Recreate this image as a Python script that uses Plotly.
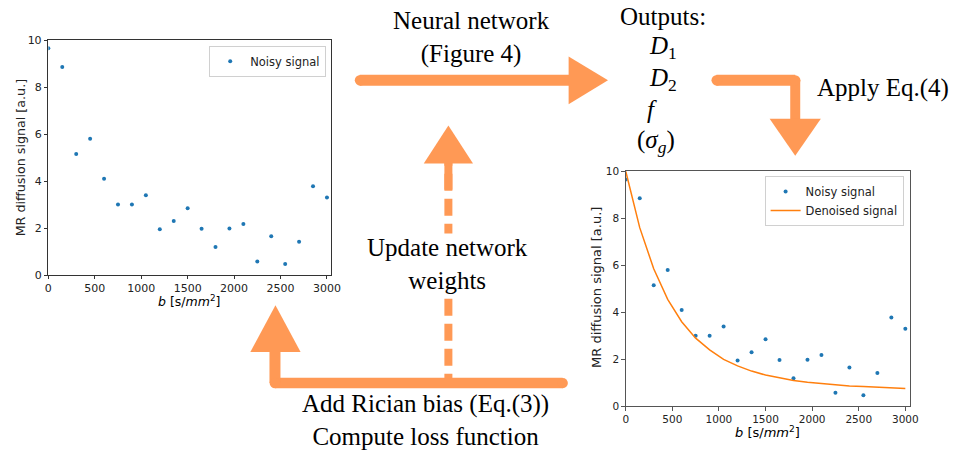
import plotly.graph_objects as go

# ---------------- data ----------------
b_values = [0, 150, 300, 450, 600, 750, 900, 1050, 1200, 1350, 1500,
            1650, 1800, 1950, 2100, 2250, 2400, 2550, 2700, 2850, 3000]
noisy_signal = [9.65, 8.85, 5.15, 5.8, 4.1, 3.0, 3.0, 3.4, 1.95, 2.3, 2.85,
                1.97, 1.2, 1.98, 2.18, 0.58, 1.65, 0.47, 1.42, 3.78, 3.3]
denoised_signal = [10.0, 7.6, 5.85, 4.55, 3.6, 2.9, 2.4, 2.0, 1.72, 1.5, 1.33,
                   1.2, 1.1, 1.02, 0.96, 0.91, 0.87, 0.84, 0.81, 0.79, 0.76]
x_ticks = [0, 500, 1000, 1500, 2000, 2500, 3000]
y_ticks = [0, 2, 4, 6, 8, 10]

W, H = 955, 460
ORANGE = "#FF9955"
BLUE = "#1f77b4"
LINE_ORANGE = "#ff7f0e"


def fx(x):
    return x / W


def fy(y):
    return 1 - y / H


fig = go.Figure()

# left plot
fig.add_trace(go.Scatter(x=b_values, y=noisy_signal, mode="markers",
                         marker=dict(color=BLUE, size=4), name="Noisy signal",
                         xaxis="x", yaxis="y", legend="legend"))
# right plot
fig.add_trace(go.Scatter(x=b_values, y=noisy_signal, mode="markers",
                         marker=dict(color=BLUE, size=4), name="Noisy signal",
                         xaxis="x2", yaxis="y2", legend="legend2"))
fig.add_trace(go.Scatter(x=b_values, y=denoised_signal, mode="lines",
                         line=dict(color=LINE_ORANGE, width=1.5), name="Denoised signal",
                         xaxis="x2", yaxis="y2", legend="legend2"))


def axis_style(domain, anchor, rng, tickvals, color, fsize, tl=3.5):
    return dict(domain=domain, anchor=anchor, range=rng, tickvals=tickvals,
                showline=True, mirror=True, linecolor=color, linewidth=1,
                ticks="outside", ticklen=tl, tickcolor=color, showgrid=False,
                zeroline=False, tickfont=dict(family="DejaVu Sans", size=fsize, color="#222"))


layout = dict(
    width=W, height=H, autosize=False,
    margin=dict(l=0, r=0, t=0, b=0),
    paper_bgcolor="white", plot_bgcolor="white",
    xaxis=axis_style([fx(45), fx(332)], "y", [0, 3045], x_ticks, "#333", 11, tl=3),
    yaxis=axis_style([fy(277), fy(35)], "x", [0, 10], y_ticks, "#333", 11),
    xaxis2=axis_style([fx(631), fx(919)], "y2", [0, 3045], x_ticks, "#555", 10.5),
    yaxis2=axis_style([fy(412), fy(170)], "x2", [0, 10], y_ticks, "#555", 10.5),
    legend=dict(x=fx(327), xanchor="right", y=fy(41), yanchor="top",
                bgcolor="white", bordercolor="#d0d0d0", borderwidth=1,
                font=dict(family="DejaVu Sans", size=11.5, color="#222")),
    legend2=dict(x=fx(913), xanchor="right", y=fy(175), yanchor="top",
                 bgcolor="white", bordercolor="#d0d0d0", borderwidth=1,
                 font=dict(family="DejaVu Sans", size=11.5, color="#222")),
    showlegend=True,
)
fig.update_layout(**layout)

shapes = []


def line(x0, y0, x1, y1, w, dash=None):
    d = dict(type="line", xref="paper", yref="paper", x0=fx(x0), y0=fy(y0),
             x1=fx(x1), y1=fy(y1), line=dict(color=ORANGE, width=w), layer="above")
    if dash:
        d["line"]["dash"] = dash
    shapes.append(d)


def circle(cx, cy, r):
    shapes.append(dict(type="circle", xref="paper", yref="paper",
                       x0=fx(cx - r), x1=fx(cx + r), y0=fy(cy + r), y1=fy(cy - r),
                       fillcolor=ORANGE, line=dict(width=0), layer="above"))


def tri(pts):
    p = "M " + " L ".join(f"{fx(x)},{fy(y)}" for x, y in pts) + " Z"
    shapes.append(dict(type="path", xref="paper", yref="paper", path=p,
                       fillcolor=ORANGE, line=dict(width=0), layer="above"))


# Arrow A: top horizontal
line(361, 76.5, 575, 76.5, 11)
circle(361.5, 76.5, 5.5)
tri([(573, 52), (613, 76.5), (573, 101)])

# Arrow B: right L-shaped down
line(723, 76.5, 803, 76.5, 11)
line(803, 76.5, 803, 118, 10)
circle(723.5, 76.5, 5.5)
circle(803, 76.5, 5.3)
tri([(777, 116), (829, 116), (803, 154)])

# Arrow C: bottom L-shaped going left then up
line(567, 388, 275, 388, 10.5)
line(275, 388, 275, 354, 11)
circle(567, 388, 5.25)
circle(275, 388, 5.4)
tri([(250, 356), (301, 356), (275.5, 308)])

# Arrow D: dashed vertical up
line(451, 147, 451, 383, 8, dash="17px,8px")
line(451, 160, 451, 189, 8)
tri([(426, 162), (476, 162), (451, 123)])

fig.update_layout(shapes=shapes)

ann = []


def text(t, x, y, size=25, bg=None, family="Liberation Serif"):
    a = dict(text=t, x=fx(x), y=fy(y), xref="paper", yref="paper",
             xanchor="center", yanchor="middle", showarrow=False,
             font=dict(family=family, size=size, color="black"), borderpad=0)
    if bg:
        a["bgcolor"] = bg
    ann.append(a)


text("Neural network<br>(Figure 4)", 474, 32.5)
text("Outputs:", 669, 10.5)
text("<i>D</i><sub>1</sub>", 669, 43)
text("<i>D</i><sub>2</sub>", 669, 76)
text("<i>f</i>", 658, 107)
text("(<i>σ</i><sub><i>g</i></sub>)", 662, 139)
text("Apply Eq.(4)", 892, 84)
text("Update network<br>weights", 450.5, 266, bg="white")
text("Add Rician bias (Eq.(3))<br>Compute loss function", 428, 426)

# axis titles
text("<i>b</i> [s/<i>mm</i><sup>2</sup>]", 188, 304, size=12.5, family="DejaVu Sans")
text("<i>b</i> [s/<i>mm</i><sup>2</sup>]", 775, 438, size=13, family="DejaVu Sans")
ann.append(dict(text="MR diffusion signal [a.u.]", x=fx(17), y=fy(156), xref="paper", yref="paper",
                xanchor="center", yanchor="middle", showarrow=False, textangle=-90,
                font=dict(family="DejaVu Sans", size=12.7, color="#222")))
ann.append(dict(text="MR diffusion signal [a.u.]", x=fx(602), y=fy(290), xref="paper", yref="paper",
                xanchor="center", yanchor="middle", showarrow=False, textangle=-90,
                font=dict(family="DejaVu Sans", size=13, color="#222")))

fig.update_layout(annotations=ann)

fig.write_html("out.html", config={"displayModeBar": False})
